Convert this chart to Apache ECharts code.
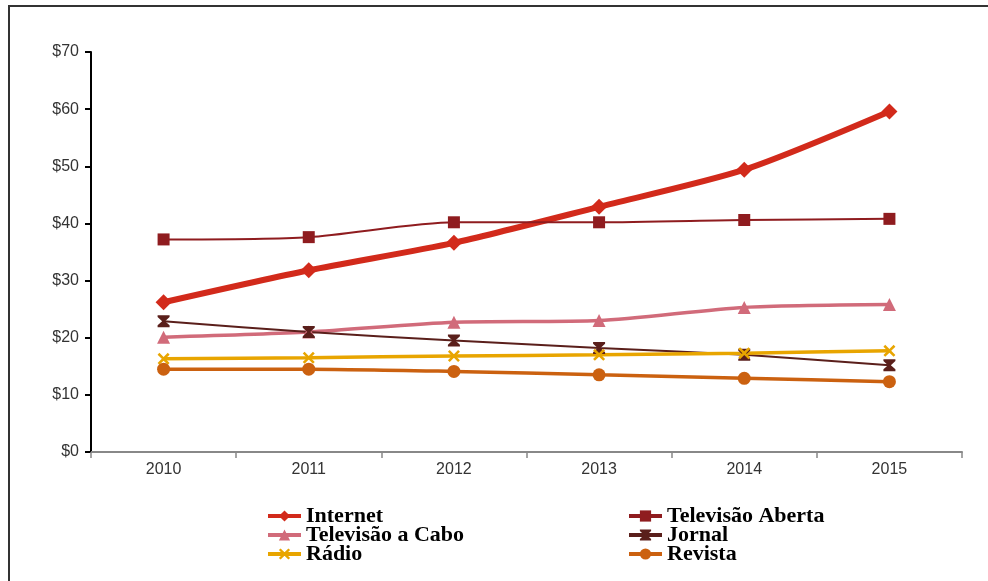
<!DOCTYPE html>
<html>
<head>
<meta charset="utf-8">
<script src="https://cdn.jsdelivr.net/npm/echarts@6/dist/echarts.min.js"></script>
<style>
  html, body { margin: 0; padding: 0; background: #fff; }
  #chart { width: 988px; height: 581px; }
</style>
</head>
<body>
<div id="chart"></div>
<script>
// Years on the category axis
const years = ['2010', '2011', '2012', '2013', '2014', '2015'];

// Ad spending per medium (US$ billions)
const internet = [26.2, 31.8, 36.6, 42.9, 49.4, 59.6];
const tvAberta = [37.2, 37.6, 40.2, 40.2, 40.6, 40.8];
const tvCabo = [20.1, 21.0, 22.7, 23.0, 25.3, 25.8];
const jornal = [22.9, 21.0, 19.5, 18.2, 17.0, 15.2];
const radio = [16.3, 16.5, 16.8, 17.0, 17.3, 17.7];
const revista = [14.5, 14.5, 14.1, 13.5, 12.9, 12.3];

// Value-axis ticks
const yMin = 0, yMax = 70, yStep = 10;

const bowtie = 'path://M0,0 L10,0 L10,1.5 L6.2,5 L10,8.5 L10,10 L0,10 L0,8.5 L3.8,5 L0,1.5 Z';
const cross = 'path://M0,1.5 L1.5,0 L5,3.5 L8.5,0 L10,1.5 L6.5,5 L10,8.5 L8.5,10 L5,6.5 L1.5,10 L0,8.5 L3.5,5 Z';

function line(name, data, color, width, symbol, size, smooth) {
  return {
    name: name,
    type: 'line',
    data: data,
    smooth: smooth,
    symbol: symbol,
    symbolSize: size,
    showSymbol: true,
    lineStyle: { color: color, width: width },
    itemStyle: { color: color, borderWidth: 0 },
    emphasis: { disabled: true },
    z: 3
  };
}

const legendText = {
  fontFamily: '"Liberation Serif", "Times New Roman", serif',
  fontWeight: 'bold',
  fontSize: 22,
  lineHeight: 19,
  color: '#000'
};

const axisFont = '"Liberation Sans", Arial, sans-serif';

function legendBlock(names, left) {
  return {
    data: names,
    orient: 'vertical',
    left: left, top: 505,
    itemWidth: 33, itemHeight: 14, itemGap: -3,
    lineStyle: { width: 4 },
    textStyle: legendText,
    padding: 0
  };
}

const chart = echarts.init(document.getElementById('chart'), null, { renderer: 'canvas' });
chart.setOption({
  animation: false,
  backgroundColor: '#fff',
  graphic: [{
    type: 'rect',
    shape: { x: 9, y: 6, width: 1000, height: 600 },
    style: { fill: 'none', stroke: '#333', lineWidth: 2 },
    silent: true
  }],
  grid: { left: 91, right: 26, top: 52, bottom: 129 },
  legend: [
    legendBlock(['Internet', 'Televisão a Cabo', 'Rádio'], 266),
    legendBlock(['Televisão Aberta', 'Jornal', 'Revista'], 627)
  ],
  xAxis: {
    type: 'category',
    data: years,
    boundaryGap: true,
    axisLine: { lineStyle: { color: '#888', width: 2 } },
    axisTick: { show: true, length: 6, lineStyle: { color: '#888', width: 1.5 } },
    axisLabel: { color: '#333', fontSize: 16, fontFamily: axisFont, margin: 10 },
    splitLine: { show: false }
  },
  yAxis: {
    type: 'value',
    min: yMin, max: yMax, interval: yStep,
    axisLine: { show: true, lineStyle: { color: '#000', width: 2 } },
    axisTick: { show: true, length: 6, lineStyle: { color: '#000', width: 2 } },
    axisLabel: {
      color: '#333', fontSize: 16, fontFamily: axisFont, margin: 12,
      formatter: v => '$' + v
    },
    splitLine: { show: false }
  },
  series: [
    line('Internet', internet, '#d22a1b', 6, 'diamond', 16, 0.25),
    line('Televisão Aberta', tvAberta, '#8f1c1f', 2, 'rect', 12, 0.25),
    line('Televisão a Cabo', tvCabo, '#d16b7a', 3.5, 'triangle', 13, 0.25),
    line('Jornal', jornal, '#5a1f1b', 2, bowtie, 12, 0.25),
    line('Rádio', radio, '#e8a500', 3.5, cross, 12, 0.25),
    line('Revista', revista, '#cb6110', 3.5, 'circle', 13, 0.25)
  ]
});
</script>
</body>
</html>
